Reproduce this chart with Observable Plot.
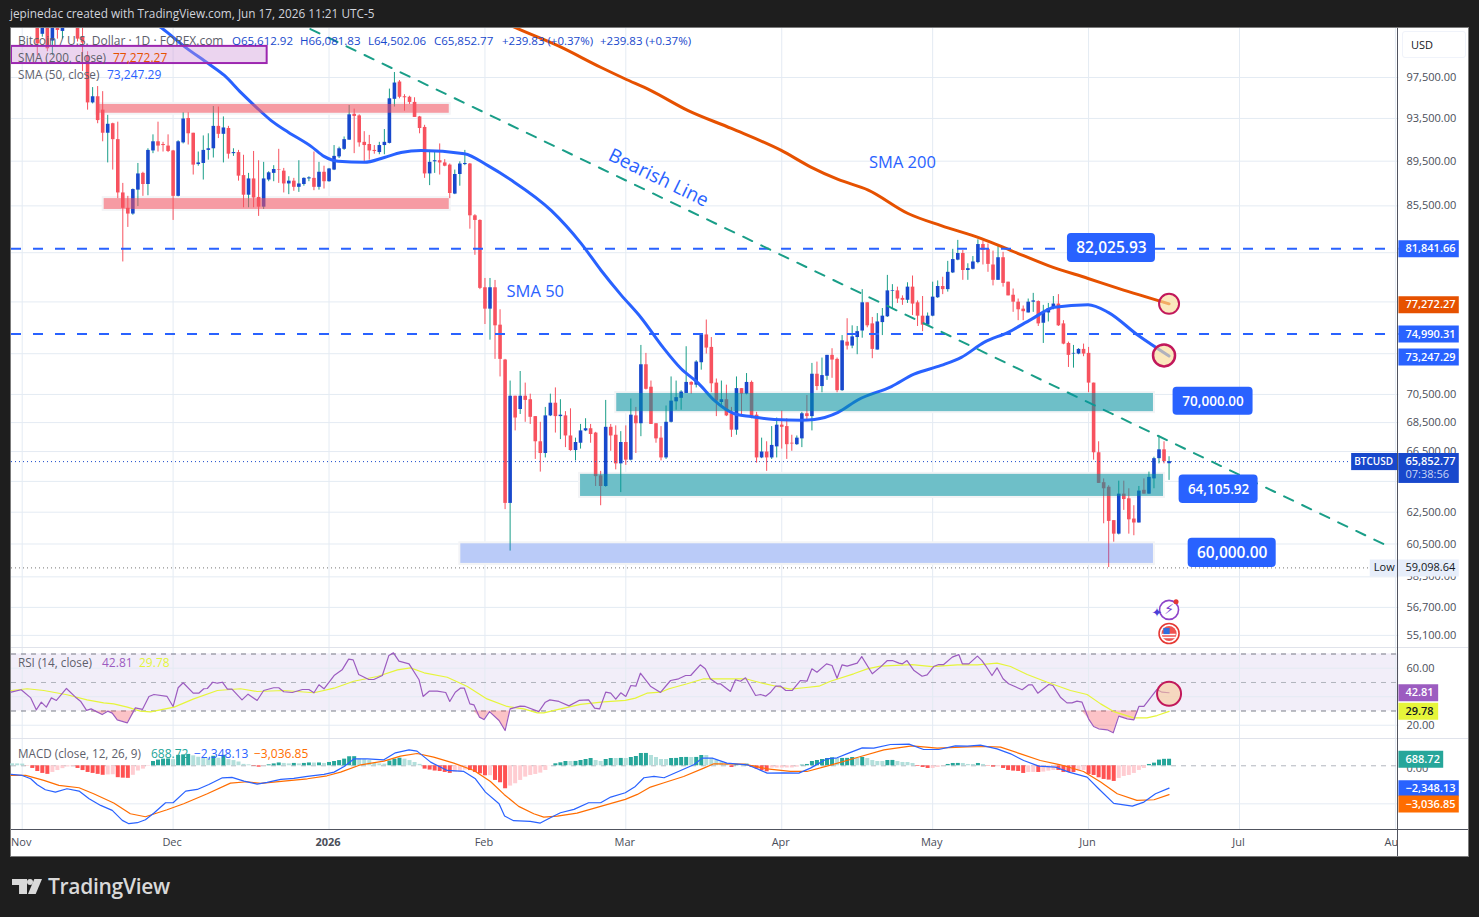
<!DOCTYPE html>
<html>
<head>
<meta charset="utf-8">
<script src="https://cdn.jsdelivr.net/npm/d3@7"></script>
<script src="https://cdn.jsdelivr.net/npm/@observablehq/plot@0.6"></script>
<style>
html,body{margin:0;padding:0;background:#1e1e1e;overflow:hidden;}
#stage{position:relative;width:1479px;height:917px;font-family:"Open Sans",sans-serif;overflow:hidden;}
#pane{position:absolute;left:11px;top:28px;width:1457px;height:828px;background:#fff;box-shadow:0 0 0 1px #7b7b7b;}
.plot{position:absolute;left:0;}
.plot svg{display:block;}
.hd{position:absolute;white-space:pre;z-index:5;line-height:1;}
.sep{position:absolute;z-index:4;}
</style>
</head>
<body>
<div id="stage"><div id="pane"></div></div>
<script>
// ---- dates: every series is indexed by whole or fractional days after 1 Nov 2025
const firstDay = -2, originUTC = Date.UTC(2025,10,1);
const day = d => new Date(originUTC + d*864e5);

// ---- daily candles (thousand USD), from 30 Oct 2025 to 17 Jun 2026
const opens = [
109.5,110,109.8,110,109.6,105,101.8,104,101.1,104,
102.1,104,105,102.7,101.5,99.6,94.9,95.5,94.2,92,
92.9,91.4,86.55,85.2,84.7,86.8,88.3,87.3,90.35,91.2,
90.95,90.8,90.35,86.25,91.1,93.4,92,89.1,89.2,90.4,
90.55,92.65,91.9,92.45,90.1,90.2,88.1,86.35,87.8,86.15,
85.3,87.7,88.3,88.65,88.5,87.35,87.6,87.05,87.3,87.8,
87.85,87.05,88.4,87.55,88.6,89.8,90.5,91.35,93.8,93.65,
91.15,90.95,90.4,90.2,90.85,91.05,95.25,96.95,95.5,95.45,
94.95,93.55,92.55,88.25,89.35,89.45,89.25,89.05,86.45,88.2,
89.1,89.15,84.55,84.15,78.55,76.85,78.55,75.6,72.95,63,
70.3,69.35,70.3,70.05,68.85,67.1,66.3,68.9,69.8,68.85,
68.9,67.5,66.5,67,67.85,68,67.7,64.8,64.1,68.1,
67.55,65.6,67.05,65.85,68.9,68.35,72.6,70.95,68.35,67.35,
66,68.45,69.9,70.15,70.5,71.3,71.1,72.75,74.85,73.9,
71.25,69.85,70.05,69.05,67.9,70.85,70.45,71.3,68.95,66,
66.4,66,66.75,68.25,68.15,67,66.9,67.3,69.05,68.85,
71.9,71,71.75,73.3,73,70.7,74.3,74,74.65,75.15,
77.35,75.7,73.7,75.8,76.25,78.25,78.3,77.7,77.55,78.6,
77.35,76.3,75.6,76.3,77.75,78.65,78.4,79.75,80.8,81.35,
79.95,80.05,80.6,82.1,81.7,80.4,79.15,81,79,77.95,
77.4,76.85,76.55,77.4,77.45,75.75,76.55,76.9,77.25,75.7,
74.2,73.4,73.4,73.75,73.45,71.25,66.35,64.35,64.05,61.9,
61.05,63.6,63.3,62,61.75,63.85,63.6,64.6,65.95,66.55,65.61];
const closes = [
110,109.8,110,109.6,106.5,100.8,104,100.3,104,102.2,
104,105,104,101.3,100.9,94.9,95.5,93.2,92,92.85,
91.4,86.55,85.2,84.7,86.85,88.25,87.3,90.4,91.2,90.8,
90.85,90.3,86.25,91.2,93.35,91.95,89.05,89.25,90.4,90.55,
92.65,91.9,92.5,90.05,90.2,88.05,86.35,87.8,86.1,85.3,
87.8,88.35,88.65,88.6,87.35,87.6,87.05,87.35,87.85,87.9,
87.05,88.4,87.55,88.7,89.85,90.55,91.4,93.75,93.6,91.1,
90.85,90.35,90.3,90.85,91.15,95.3,96.85,95.45,95.4,94.95,
93.5,92.45,88.25,89.3,89.45,89.25,88.95,86.5,88.2,89.15,
89.2,84.55,84.15,78.5,76.85,78.55,75.55,73,63,70.3,
68.75,70.3,70,68.8,67.1,66.3,68.9,69.8,68.85,68.95,
67.5,66.5,67.05,67.85,68,67.6,64.75,64.1,68.1,67.5,
65.6,67.05,65.85,68.95,68.35,72.6,70.8,68.3,67.3,66,
68.45,69.95,70.2,70.6,71.3,71.1,72.8,74.85,73.85,71.2,
69.95,70.05,68.9,67.9,70.85,70.45,71.3,68.85,66,66.4,
66,66.85,68.25,68.1,66.9,66.95,67.35,69.05,68.85,71.9,
71,71.8,73.3,72.95,70.7,74.4,74,74.7,75.1,77.35,
75.55,73.75,75.85,76.3,78.3,78.3,77.65,77.55,78.6,77.25,
76.3,75.6,76.3,77.8,78.65,78.4,79.8,80.85,81.35,79.95,
80.1,80.65,82.1,81.6,80.45,79.15,81,78.9,77.9,77.4,
76.8,76.65,77.4,77.5,75.7,76.55,76.9,77.25,75.55,74.15,
73.3,73.45,73.75,73.4,71.25,66.35,64.3,63.95,61.85,61.05,
63.6,63.25,61.95,61.75,63.8,63.6,64.7,65.95,66.55,65.75,65.75];
const highs = [
111,111.3,111,110.5,110,106,105,105,105,105,
105,106,106,104,103,100,96.4,96.5,96,93.7,
92.95,93.05,87.4,86.25,86.9,89.2,88.4,90.55,91.85,93.05,
91.15,91.85,90.4,91.3,93.95,93.95,92,90.25,91.75,91.95,
94.55,94.5,93.55,92.65,90.55,90.4,89.95,88.3,90.3,89.45,
89.3,88.45,89,90.5,88.75,88,87.85,89.45,87.9,88,
90.25,89.3,88.95,88.75,90.85,90.7,91.65,94.65,94.3,93.75,
92.15,91.8,90.85,91.15,92.35,96.25,97.9,97.1,95.7,95.55,
95.4,93.6,92.75,90.4,90.35,91,89.55,89.15,88.6,89.35,
90.4,89.2,84.65,84.2,79.3,79.3,79.14,76.8,73,71.4,
70.3,72.1,71.25,70.45,68.85,68.45,69.5,70.45,70.9,70.05,
69.2,69.4,67.35,68.3,68.7,68.3,67.75,65.1,70,68.3,
68.2,67.8,68.2,70.1,69.5,74.05,73.45,71.4,68.35,68.15,
69.6,71.7,71.4,70.7,73.95,71.35,72.9,74.85,76,74.65,
71.55,71.4,71.1,69.5,71.7,70.85,71.95,71.4,69.15,67.35,
67.1,68.15,68.75,69.25,68.7,67.55,67.5,69.15,70.35,72.7,
72.8,73.1,73.3,73.8,73.1,74.8,76.1,75.55,75.5,78.4,
77.35,76.2,76.5,76.9,79.55,78.8,78.6,77.9,78.95,79.5,
77.5,77.85,76.55,79,79.1,79.4,80.7,81.7,82.45,81.6,
80.5,81.1,82.5,82.4,82.15,81.55,82,81.45,79,78.45,
77.65,77.1,77.65,78.1,77.5,77.15,77.3,77.85,78,75.95,
74.3,74.05,73.8,74.15,73.9,71.25,67.1,64.6,64.15,61.9,
64.45,64.45,63.95,62.85,64.1,64.6,65.05,66.05,67.5,67.1,66.08];
const lows = [
108.5,109,109,109.2,106,99.6,101.5,100,99.6,101.3,
101.3,103,103,101,98,94.2,94.8,92.9,91.2,89.25,
88.6,86.05,80.65,83.55,84.6,85.35,86.25,86.3,90.1,90.25,
90.25,90.2,84.15,86.2,91,90.9,88.15,88.95,87.7,89.5,
89.7,91.5,89.25,89.6,89.85,87.6,85.25,85.25,85.25,84.5,
85.1,87.55,87.55,87.4,86.55,86.4,86.7,86.6,87.15,87.55,
86.75,86.8,86.9,87.5,88.55,89.65,90.4,91.35,90.1,90.7,
89.2,89.5,90.05,90,90,91,94.5,95.3,94.1,94.75,
93.5,91.95,87.85,87.2,88.3,88.15,88.9,86.05,86.4,87.15,
89,83.4,81.2,78.4,75.65,74.45,73,71.7,62.6,60,
67.85,69,68.45,68.3,65.9,65.05,66,68.85,67.7,67.25,
66.7,66.45,65.8,66.6,67.8,67,64.1,62.85,64.05,66.45,
65.2,63.7,65.5,65.8,66.3,67.45,70.75,68.3,67,65.8,
65.9,68.4,69.3,69.3,70.5,70.45,70.9,72.2,73.4,70.55,
68.85,69.45,68.85,67.4,67.55,69,70.4,68.7,65.65,65.95,
65.1,65.9,66,66.6,65.9,66.45,66.85,66.7,68.5,67.85,
70.7,70.55,71.45,71.6,70.55,70.65,73.7,73.8,73.35,74.6,
75.4,73.05,73.7,74.8,76.2,76.9,77.3,77.15,77.3,76.35,
75.5,75.1,75.55,76.25,77.7,78,78.2,79.7,80.75,79.15,
79.15,80,80.5,80.4,79.8,78.7,79.15,78.6,77.9,76.6,
75.95,75.95,76.55,76.6,75.5,74.2,75.85,76.8,75.5,74.1,
72.4,72.35,73.35,73.2,70.55,65.85,64.3,61.7,59,60.55,
61,62.55,61.05,60.95,61.75,63.6,63.6,63.95,65.6,65.6,64.5];

// ---- moving averages
const sma50Days = [20,27.6,32.6,37,40.2,43.5,46.5,49.5,52.9,57.5,60,62.8,68,72,75.3,79.3,87.9,92.6,97.2,105.2,111.1,115.1,119,123,127.4,131,134.4,137.6,141.6,144.9,149.5,154.9,157.5,162.2,166.2,172.8,177.3,182.7,186.7,191.3,196,200.6,205.2,211.9,215.9,221.9,228];
const sma50Values = [105,102.5,100.4,98.8,97.6,95.9,94.5,93.2,92.1,90.75,89.85,89.4,89.3,89.75,90.2,90.4,90.1,89,87.7,85,82.2,79.95,78,76.2,73.9,72.3,71.25,70,69.05,68.85,68.65,68.6,68.65,69.15,70.05,71,71.9,72.55,73.15,74.3,75.05,76.05,77,77.2,76.6,74.8,73.25];
const sma200Days = [85,97.6,106.6,115.1,119.7,125,132.4,141,150.9,156.9,162.2,168.2,176.1,182.7,190.7,196.6,204,211.9,217.9,228];
const sma200Values = [106,102.6,100.6,98.4,97.3,96.1,94.15,92.45,90.4,88.85,87.75,86.8,84.75,83.7,82.6,81.6,80.35,79.3,78.5,77.27];

// ---- price axis
const priceGrid = [97.5,93.5,89.5,85.5,81.5,77.5,73.5,70.5,68.5,66.5,64.5,62.5,60.5,58.5,56.7,55.1];
const priceTicks = [97.5,93.5,89.5,85.5,73.5,70.5,68.5,66.5,62.5,60.5,58.5,56.7,55.1];
const monthDays = [0,30,92,120,151,181,212,242,273];
const monthNames = ["Nov","Dec","Feb","Mar","Apr","May","Jun","Jul","Aug"];
const yearDays = [61];
const yearNames = ["2026"];

// ---- drawn horizontal levels and zones
const dashedLevels = [81.84166,74.99031];
const redZoneStart = [14.9,16.3], redZoneEnd = [84.9,84.9], redZoneTop = [94.75,86.05], redZoneBottom = [93.9,85.1];
const tealZoneStart = [118.2,111], tealZoneEnd = [224.9,226.9], tealZoneTop = [70.5,64.9], tealZoneBottom = [69.2,63.45];
const blueZoneStart = [87.2], blueZoneEnd = [224.9], blueZoneTop = [60.45], blueZoneBottom = [59.25];
const trendDays = [57.3,271.2], trendValues = [102.35,60.35];

// ---- annotation boxes
const boxLabels = ["82,025.93","70,000.00","64,105.92","60,000.00"];
const boxStart = [207.8,228.8,230,231.8], boxEnd = [225.3,244.7,245.7,249.3];
const boxTop = [83.03,70.95,64.85,60.8], boxBottom = [80.6,68.95,63,59];

// ---- price badges
const badgeValues = [81.84166,77.27227,74.99031,73.24729];
const badgeLabels = ["81,841.66","77,272.27","74,990.31","73,247.29"];
const badgeKinds = ["level","sma200","level","sma50"];

// ---- RSI
const rsiDays = [-2.2,-0.2,1.7,2.8,3.8,4.8,5.8,6.8,8.8,10.6,11.6,12.8,13.7,15.9,17,17.9,18.9,20.9,22.5,23.9,25.2,26.2,28.8,30,31,32,34,35.1,36.1,36.8,37.9,38.8,39.8,40.8,41.7,43.7,44.9,46.7,48,50,51,52,53.7,55.7,57,58,59,60,62,63.6,64.9,65.8,66.9,68.9,69.9,71.6,72.9,73.8,74.9,76.9,78.9,79.7,80.9,82.5,84.2,85,86.1,87.1,87.9,89,89.8,90.9,91.8,92.9,94.8,96,97,99,100,102.7,104,104.9,106.7,108.7,110.7,112.6,113.8,114.8,116,117,118,119,120,121,122,122.9,124.9,126.9,128.9,130.5,131.9,132.9,134.8,135.8,136.8,138.2,138.8,140.8,141.8,142.8,143.8,145.8,146.8,147.8,148.8,149.8,150.8,151.8,153.1,154.7,156,157,158,159.9,161,162,163,164,166,166.9,169,170.6,172,173,174.3,175,175.9,177.3,178.9,179.9,181.2,182.2,183.2,184.9,186.2,186.9,188.2,189.9,190.8,191.5,192.8,193.8,195,196.1,198.8,200.1,200.8,201.9,204.1,204.9,206.4,207.7,208.7,209.7,210.7,212,213,214,215.7,216.9,218,219.7,221,222,223,225.6,226.6,228];
const rsiValues = [43.2,44.9,39.2,30.8,36.2,32.7,39.2,37.4,45.8,39.7,36.9,30.4,31.5,27.5,29.9,28.5,23.8,21.7,32.2,31.1,40.2,41.6,40.2,33.2,46.3,49.8,42.5,42.5,45.6,45.8,50.2,49.5,50.2,45.3,45.3,37.8,41.8,37.4,44.4,46.3,46.3,43.5,43,45.1,45.1,42.8,48.4,45.6,54.9,58.9,66.4,65.9,55.6,52.1,52.1,54.9,69,70.8,65,63.1,51.9,40.2,43.9,43.9,43,36.7,43.2,46,46,35,34.3,25.7,24,29.6,23.3,16.3,31.5,33.4,33.2,29.6,36.2,37.8,36.7,33.6,37.4,37.8,32,31.5,43.2,42.5,38.3,42.8,40.2,47.9,47.4,56.5,47.4,43,51.4,52.6,54.9,54.9,62.4,59.6,52.6,49.1,49.1,43.7,51.9,50.9,53.3,40.9,41.6,40.4,43.2,47.4,47.4,44.4,44.4,51.4,50.9,59.6,57.2,63.1,61.9,53,62.4,61.5,63.6,68.2,56.1,60.8,65.4,65.4,63.6,63.1,65.4,58.4,54.4,55.4,61.2,62.6,62.6,67.8,69.6,63.1,63.1,68.5,65.4,61.9,54.9,60.3,52.6,49.1,44.9,48.4,48.4,42.5,48.6,47.9,39.7,35.7,35.7,36.9,36.2,24.5,19.1,17.5,16.8,14.7,26.4,24.5,23.8,33.2,33.2,45.1,43.2,42.81];
const rsiSmaDays = [-2.2,1,4.3,8.9,12.9,16.2,18.2,20.9,23.5,25.5,30.2,34.1,38.8,43.4,46.7,52,58,62,65.9,70.6,74.6,77.2,79.9,84.5,88.5,92.4,96.4,99.7,102.4,103.7,106.4,111,115.6,119.9,121.9,124.2,126.9,128.6,132.2,135.5,139.5,143.8,146.8,150.1,152.7,155.4,158.4,160.7,165.3,168,170.6,176.9,180.9,185.9,189.9,193.8,196.5,199.8,203.8,208.4,211.7,214.4,217,221,223.6,225.6,228];
const rsiSmaValues = [44.4,45.6,44.4,41.4,37.8,35.7,35,32.7,29.9,29.4,32.7,38.5,44.4,45.6,43.7,44.4,42.8,46,50.9,54.2,58.9,60.3,56.8,53.7,47.2,38.5,33.2,31.5,28.7,28.7,31,34.6,36.4,37.4,39,42.5,43.2,45.6,49.1,52.6,52.6,52.6,49.8,47.2,45.3,46.3,47.4,50.9,56.1,59.6,61.5,62.6,61.2,62.4,62.4,63.6,61.2,55.6,50.2,44.4,41.6,35,29.6,25.2,25.2,26.8,29.78];
const rsiLevelsDashed = [70,30], rsiMiddle = [50], rsiTicks = [60,20], rsiGrid = [60,40,20];

// ---- MACD
const macdDays = [-2.2,0,1.7,3,4.6,6.6,8.9,11.3,13.3,15.6,17.9,19.9,21.2,22.9,24.5,26.2,28.5,30,32.5,34.8,37.1,39.8,41.7,44.1,46.7,48.7,51.4,54,56.7,60,62,64,66,68.6,71.9,74.2,76.9,78.5,81.2,84.5,87.8,90.1,92.1,94.8,95.9,97.7,101,103,105,107,109.7,112.6,115,117,119.9,121.9,123.6,125.6,127.6,130.9,133.5,135.2,137.2,140.1,144.1,146.1,148.1,151.4,154.4,156.7,160,162,164.3,167,169.3,172.6,176.3,179.2,182.2,185.5,187.9,190.5,193.8,196.5,199.1,202.1,205.4,208.1,211.7,214,217,220.7,223,225.3,228];
const macdValues = [-910,-1015,-1365,-1995,-2520,-2765,-2415,-2660,-3465,-4165,-4690,-5740,-6090,-5985,-5670,-4970,-3885,-3885,-2660,-2485,-1960,-1260,-1225,-1610,-1925,-1750,-1435,-1330,-1120,-910,-665,-70,735,735,630,1365,1680,1540,385,-490,-595,-1365,-2765,-3990,-5285,-5775,-5845,-6020,-5460,-4935,-4585,-3885,-3885,-3290,-2835,-2170,-1260,-1120,-1260,-490,105,805,805,280,105,-315,-770,-735,-770,-245,735,840,1330,1890,1855,2240,2275,1715,1715,2100,2065,2170,1785,1260,560,-35,-140,-665,-1190,-2415,-3955,-4235,-3815,-2940,-2348.13];
const signalDays = [-2.2,0.7,4.3,7.3,11.3,14.2,18.2,21.5,24.5,28.8,32.1,36.8,41.4,44.7,47.4,52,56.7,60.6,63.3,67.3,71.9,75.2,78.5,81.8,85.8,89.8,93.1,95.8,98.7,101.7,103.7,106.4,110.3,115,119.9,122.3,124.9,127.6,131.5,135.5,137.5,143.5,148.1,152.7,156,160.7,166.7,171.3,176.9,181.9,187.9,191.8,194.5,198.5,202.4,206.4,211,214.4,217.7,221.6,225,228];
const signalValues = [-1015,-1015,-1540,-2065,-2310,-2940,-3920,-5040,-5355,-4620,-3990,-2940,-1820,-1680,-1855,-1610,-1365,-1050,-665,105,490,1015,1295,910,280,-490,-1645,-3010,-4270,-5040,-5390,-5285,-4970,-4270,-3535,-3010,-2240,-1785,-1120,-245,210,175,-315,-595,-595,70,980,1680,2100,1855,1995,2030,1960,1260,560,105,-595,-1715,-2940,-3640,-3570,-3036.85];
const histValues = [
210,200,180,-20,-280,-600,-800,-900,-700,-500,
-300,-120,-100,-280,-500,-700,-800,-900,-1000,-960,
-940,-1250,-1300,-1320,-1000,-550,-350,-50,450,600,
700,720,650,1100,1150,1200,1050,900,800,750,
1000,800,1100,650,550,400,150,100,-50,-150,
-30,100,200,300,250,200,250,200,250,300,
290,300,250,350,450,550,700,950,960,700,
650,550,250,200,180,500,700,800,700,550,
350,150,-350,-450,-550,-600,-700,-800,-700,-650,
-450,-500,-700,-850,-1050,-1040,-1540,-1785,-2415,-2135,
-1890,-1540,-1190,-1015,-910,-770,-490,-20,210,315,
455,450,460,560,665,770,560,455,665,770,
765,775,770,875,980,1295,1300,1085,875,665,
660,770,775,875,880,875,880,1085,1080,770,
560,385,210,-175,140,135,175,-175,-350,-525,
-630,-245,-240,-235,-230,-225,-140,70,140,455,
560,665,770,840,770,775,780,875,770,875,
770,560,455,450,560,565,455,350,345,245,
-70,-175,-280,-275,-175,-35,140,245,250,245,
140,135,245,140,-35,-140,-100,-280,-490,-560,
-595,-805,-700,-695,-700,-665,-560,-490,-495,-700,
-705,-710,-560,-490,-910,-1015,-1260,-1435,-1505,-1645,
-1330,-1120,-1015,-805,-490,-280,140,280,600,680,688.72];
const macdTicks = [0,-4000];

// ---- shared colours
const C = {up:"#1848cc",down:"#f7525f",upWick:"#1a9e88",level:"#2962ff",sma200:"#e65100",sma50:"#2962ff",
  grid:"#e4ebf3",text:"#4a4e59",teal:"#1a9e88",dark:"#50535e",rsi:"#9c5cc0",rsiSma:"#e6f53a",macd:"#2962ff",signal:"#ff6d00"};

const F = "Open Sans";
const endPane = 273.7, endStage = 287.53, labelDay = 275;
const xOpt = {type:"utc",domain:[day(-2.127),day(endStage)]};
const table = (xs,ys) => xs.map((d,i)=>({x:day(d),y:ys[i]}));
const hrule = (vals,a,b,o) => Plot.ruleY(vals,{y:d=>d,x1:()=>day(a),x2:()=>day(b),...o});
const usd = d3.format(",.2f");

const candles = opens.map((o,i)=>({x:day(firstDay+i),o,c:closes[i],h:highs[i],l:lows[i]}));
const upC = candles.filter(d=>d.c>=d.o), dnC = candles.filter(d=>d.c<d.o);

const zones = (s,e,t,b) => s.map((v,i)=>({x1:day(v),x2:day(e[i]),y1:b[i],y2:t[i]}));
const rectOf = (data,o) => Plot.rect(data,{x1:"x1",x2:"x2",y1:"y1",y2:"y2",...o});
const boxes = boxLabels.map((t,i)=>({t,x1:day(boxStart[i]),x2:day(boxEnd[i]),y1:boxBottom[i],y2:boxTop[i],xm:day((boxStart[i]+boxEnd[i])/2),ym:Math.sqrt(boxTop[i]*boxBottom[i])}));
const badges = badgeValues.map((v,i)=>({v,t:badgeLabels[i],k:badgeKinds[i]}));
const redZ = zones(redZoneStart,redZoneEnd,redZoneTop,redZoneBottom);
const tealZ = zones(tealZoneStart,tealZoneEnd,tealZoneTop,tealZoneBottom);
const blueZ = zones(blueZoneStart,blueZoneEnd,blueZoneTop,blueZoneBottom);

const main = Plot.plot({
  width:1479,height:648,marginTop:28,marginBottom:0,marginLeft:11,marginRight:11,
  style:{background:"transparent",fontFamily:F,fontSize:"11px",color:C.text},
  x:{...xOpt,axis:null},
  y:{type:"log",domain:[54.31,102.406],axis:null},
  marks:[
    hrule(priceGrid,-2.127,endPane,{stroke:C.grid,dy:1}),
    Plot.ruleX(monthDays.concat(yearDays).map(day),{stroke:C.grid}),
    Plot.axisY(priceTicks,{anchor:"right",tickSize:0,tickPadding:0,dx:-62,dy:1,label:null,tickFormat:d=>usd(d*1000)}),
    rectOf(redZ.concat(tealZ,blueZ),{fill:"#f3f4f6",inset:-2}),
    Plot.ruleX(upC,{x:"x",y1:"l",y2:"h",stroke:C.upWick,strokeWidth:1,clip:true}),
    Plot.ruleX(dnC,{x:"x",y1:"l",y2:"h",stroke:C.down,strokeWidth:1,clip:true}),
    Plot.ruleX(upC,{x:"x",y1:"o",y2:"c",stroke:C.up,strokeWidth:3.6,clip:true}),
    Plot.ruleX(dnC,{x:"x",y1:"o",y2:"c",stroke:C.down,strokeWidth:3.6,clip:true}),
    Plot.line(table(sma200Days,sma200Values),{x:"x",y:"y",stroke:C.sma200,strokeWidth:3,curve:"monotone-x",clip:true}),
    Plot.line(table(sma50Days,sma50Values),{x:"x",y:"y",stroke:C.sma50,strokeWidth:3,curve:"monotone-x",clip:true}),
    hrule(dashedLevels,-2.127,endPane,{stroke:C.level,strokeWidth:2,strokeDasharray:"10 12",dy:1}),
    hrule([65.85277],-2.127,264.3,{stroke:C.up,strokeDasharray:"1 3",dy:1.5}),
    hrule([59.09864],-2.127,268,{stroke:"#777",strokeDasharray:"1 3",dy:2}),
    Plot.line(table(trendDays,trendValues),{x:"x",y:"y",stroke:C.teal,strokeWidth:2,strokeDasharray:"10 10",clip:true}),
    rectOf(redZ,{fill:C.down,fillOpacity:.55}),
    rectOf(tealZ,{fill:"#0094a2",fillOpacity:.55}),
    rectOf(blueZ,{fill:C.level,fillOpacity:.28}),
    rectOf(zones([-2.127],[48.7],[100.55],[98.8]),{fill:"#ce93d8",fillOpacity:.4,stroke:"#9c27b0",strokeWidth:2,clip:true}),
    Plot.text(["Bearish Line"],{x:()=>day(126.5),y:()=>87.9,rotate:26,fill:C.level,fontSize:19,fontFamily:F}),
    Plot.text(["SMA 200"],{x:()=>day(175),y:()=>89.3,fill:C.level,fontSize:16.5,fontFamily:F}),
    Plot.text(["SMA 50"],{x:()=>day(102),y:()=>78.25,fill:C.level,fontSize:16.5,fontFamily:F}),
    rectOf(boxes,{fill:C.level,rx:4}),
    Plot.text(boxes.filter((d,i)=>i===0||i===3),{x:"xm",y:"ym",text:"t",fill:"#fff",fontSize:15.5,fontWeight:600,fontFamily:F}),
    Plot.text(boxes.filter((d,i)=>i===1||i===2),{x:"xm",y:"ym",text:"t",fill:"#fff",fontSize:13.5,fontWeight:600,fontFamily:F}),
    Plot.dot([{x:day(228),y:77.27}],{x:"x",y:"y",r:10,stroke:"#c2185b",strokeWidth:2,fill:"#f9dc9a",fillOpacity:.65}),
    Plot.dot([{x:day(227),y:73.3}],{x:"x",y:"y",r:11,stroke:"#c2185b",strokeWidth:2.5,fill:"#f9dc9a",fillOpacity:.65}),
    // event icons
    Plot.dot([{x:day(228),y:56.5}],{x:"x",y:"y",r:9.5,stroke:"#8e44c9",strokeWidth:1.6,fill:"#fff"}),
    Plot.text(["⚡"],{x:()=>day(228),y:()=>56.5,fill:"#7b3fd1",fontSize:14,fontFamily:"DejaVu Sans"}),
    Plot.text(["✦"],{x:()=>day(228),y:()=>56.5,dx:-12,dy:3,fill:"#4b3fd8",fontSize:13,fontFamily:"DejaVu Sans"}),
    Plot.dot([{x:day(228),y:56.5}],{x:"x",y:"y",r:2.5,fill:"#e53935",dx:7,dy:-8}),
    Plot.dot([{x:day(228),y:55.15}],{x:"x",y:"y",r:10,stroke:"#e53935",strokeWidth:1.6,fill:"#fff"}),
    Plot.dot([{x:day(228),y:55.15}],{x:"x",y:"y",r:7.5,fill:"#ef5350"}),
    Plot.ruleY([55.15],{y:d=>d,x1:()=>day(226.6),x2:()=>day(229.4),stroke:"#fff",strokeWidth:1.5,dy:1}),
    Plot.ruleY([55.15],{y:d=>d,x1:()=>day(226.6),x2:()=>day(229.4),stroke:"#fff",strokeWidth:1.5,dy:4}),
    Plot.dot([{x:day(228),y:55.15}],{x:"x",y:"y",r:3.5,symbol:"square",fill:"#2f6fe0",dx:-2.5,dy:-2.5}),
    // price scale badges
    Plot.ruleY(badges,{y:"v",x1:()=>day(endPane),x2:()=>day(285.7),stroke:d=>C[d.k],strokeWidth:17,dy:1}),
    Plot.text(badges,{y:"v",x:()=>day(labelDay),dy:1,text:"t",textAnchor:"start",fill:"#fff",fontSize:11,fontWeight:600,fontFamily:F}),
    rectOf(zones([endPane],[285.7],[66.3],[64.3]),{fill:C.up}),
    rectOf(zones([264.3],[endPane],[66.3],[65.15]),{fill:C.up}),
    Plot.text(["BTCUSD"],{x:()=>day(264.8),y:()=>65.85277,dy:1.5,textAnchor:"start",fill:"#fff",fontSize:10,fontWeight:600,fontFamily:F}),
    Plot.text(["65,852.77"],{x:()=>day(labelDay),y:()=>65.85277,dy:1,textAnchor:"start",fill:"#fff",fontSize:11,fontWeight:600,fontFamily:F}),
    Plot.text(["07:38:56"],{x:()=>day(labelDay),y:()=>64.9,textAnchor:"start",fill:"#c9d4f5",fontSize:11,fontFamily:F}),
    Plot.ruleY([59.09864],{y:d=>d,x1:()=>day(268),x2:()=>day(285.7),stroke:"#e7eefa",strokeWidth:17,dy:2}),
    Plot.text(["Low"],{x:()=>day(268.7),y:()=>59.09864,dy:2,textAnchor:"start",fill:"#131722",fontSize:11,fontFamily:F}),
    Plot.text(["59,098.64"],{x:()=>day(labelDay),y:()=>59.09864,dy:2,textAnchor:"start",fill:"#131722",fontSize:11,fontFamily:F})
  ]
});

const rsiPts = table(rsiDays,rsiValues);
const rsiPane = Plot.plot({
  width:1479,height:90,marginTop:0,marginBottom:0,marginLeft:11,marginRight:11,
  style:{background:"transparent",fontFamily:F,fontSize:"11px",color:C.text},
  x:{...xOpt,axis:null},
  y:{domain:[10.7,73.86],axis:null},
  marks:[
    rectOf(zones([-2.127],[endPane],[70],[30]),{fill:"#7e57c2",fillOpacity:.1}),
    hrule(rsiGrid,-2.127,endPane,{stroke:C.grid}),
    Plot.ruleX(monthDays.concat(yearDays).map(day),{stroke:C.grid}),
    hrule(rsiLevelsDashed,-2.127,endPane,{stroke:"#787b86",strokeDasharray:"5 5"}),
    hrule(rsiMiddle,-2.127,endPane,{stroke:"#b2b5be",strokeDasharray:"5 5"}),
    Plot.axisY(rsiTicks,{anchor:"right",tickSize:0,tickPadding:0,dx:-62,label:null,tickFormat:d=>d.toFixed(2)}),
    Plot.areaY(rsiPts,{x:"x",y1:()=>30,y2:d=>Math.min(d.y,30),fill:C.down,fillOpacity:.35}),
    Plot.line(table(rsiSmaDays,rsiSmaValues),{x:"x",y:"y",stroke:C.rsiSma,strokeWidth:1.2}),
    Plot.line(rsiPts,{x:"x",y:"y",stroke:C.rsi,strokeWidth:1.2}),
    Plot.dot([{x:day(228),y:42.07}],{x:"x",y:"y",r:12,stroke:"#c2185b",strokeWidth:2,fill:"#f9c99a",fillOpacity:.6}),
    Plot.ruleY([42.81],{y:d=>d,x1:()=>day(endPane),x2:()=>day(281.6),stroke:C.rsi,strokeWidth:17}),
    Plot.text(["42.81"],{x:()=>day(labelDay),y:()=>42.81,textAnchor:"start",fill:"#fff",fontSize:11,fontWeight:600,fontFamily:F}),
    Plot.ruleY([29.78],{y:d=>d,x1:()=>day(endPane),x2:()=>day(281.6),stroke:C.rsiSma,strokeWidth:17}),
    Plot.text(["29.78"],{x:()=>day(labelDay),y:()=>29.78,textAnchor:"start",fill:"#131722",fontSize:11,fontWeight:600,fontFamily:F})
  ]
});

const hist = histValues.map((v,i)=>{
  const p = i? histValues[i-1] : v;
  return {x:day(firstDay+i),v,col:v>=0?(v>p?"#26a69a":"#b2dfdb"):(v<p?"#ff5252":"#ffcdd2")};
});
const macdPane = Plot.plot({
  width:1479,height:118,marginTop:0,marginBottom:27,marginLeft:11,marginRight:11,
  style:{background:"transparent",fontFamily:F,fontSize:"11px",color:C.text},
  x:{...xOpt,axis:null},
  y:{domain:[-6698,2870],axis:null},
  marks:[
    hrule(macdTicks.slice(1),-2.127,endPane,{stroke:C.grid}),
    Plot.ruleX(monthDays.concat(yearDays).map(day),{stroke:C.grid}),
    hrule([0],-2.127,endPane,{stroke:"#b2b5be",strokeDasharray:"5 5"}),
    Plot.axisY(macdTicks.slice(0,1),{anchor:"right",tickSize:0,tickPadding:0,dx:-62,dy:3,label:null,tickFormat:d=>d.toFixed(2)}),
    Plot.ruleX(hist,{x:"x",y1:()=>0,y2:"v",stroke:"col",strokeWidth:4}),
    Plot.line(table(signalDays,signalValues),{x:"x",y:"y",stroke:C.signal,strokeWidth:1.2}),
    Plot.line(table(macdDays,macdValues),{x:"x",y:"y",stroke:C.macd,strokeWidth:1.2}),
    Plot.ruleY([688.72],{y:d=>d,x1:()=>day(endPane),x2:()=>day(282.6),stroke:"#26a69a",strokeWidth:17}),
    Plot.text(["688.72"],{x:()=>day(labelDay),y:()=>688.72,textAnchor:"start",fill:"#fff",fontSize:11,fontWeight:600,fontFamily:F}),
    Plot.ruleY([-2348.13],{y:d=>d,x1:()=>day(endPane),x2:()=>day(285.7),stroke:C.macd,strokeWidth:16}),
    Plot.text(["−2,348.13"],{x:()=>day(labelDay),y:()=>-2348.13,textAnchor:"start",fill:"#fff",fontSize:11,fontWeight:600,fontFamily:F}),
    Plot.ruleY([-4017],{y:d=>d,x1:()=>day(endPane),x2:()=>day(285.7),stroke:C.signal,strokeWidth:17}),
    Plot.text(["−3,036.85"],{x:()=>day(labelDay),y:()=>-4017,textAnchor:"start",fill:"#fff",fontSize:11,fontWeight:600,fontFamily:F}),
    Plot.axisX(monthDays.map(day),{anchor:"bottom",tickSize:0,tickPadding:9,dx:-1,label:null,tickFormat:(d,i)=>monthNames[monthDays.findIndex(m=>+day(m)===+d)]}),
    Plot.axisX(yearDays.map(day),{anchor:"bottom",tickSize:0,tickPadding:9,dx:-1,label:null,fontWeight:"bold",tickFormat:()=>yearNames[0]})
  ]
});

const stage = document.getElementById("stage");
[[main,0],[rsiPane,648],[macdPane,738]].forEach(([node,top])=>{
  const d = document.createElement("div"); d.className="plot"; d.style.top=top+"px"; d.appendChild(node); stage.appendChild(d);
});

function hd(left,top,html,style){
  const e=document.createElement("div"); e.className="hd"; e.style.left=left+"px"; e.style.top=top+"px";
  e.style.cssText+=style||""; e.innerHTML=html; stage.appendChild(e); return e;
}
function sep(l,t,w,h,c,z){
  const e=document.createElement("div"); e.className="sep";
  e.style.cssText+=`left:${l}px;top:${t}px;width:${w}px;height:${h}px;background:${c};`+(z?`z-index:${z};`:"");
  stage.appendChild(e);
}
// pane frame lines
sep(11,647,1457,1,"#e0e3eb");
sep(11,738,1457,1,"#e0e3eb");
sep(11,829,1457,1,"#50535e");
sep(1397,28,1,828,"#50535e");
sep(1398,830,70,26,"#fff");

// header and legends
const gray="color:#5d606b;font-size:11.7px;", blue="color:#1848cc;font-size:11.5px;";
hd(10,8,"jepinedac created with TradingView.com, Jun 17, 2026 11:21 UTC-5","color:#d1d4dc;font-size:11.8px;font-weight:500;");
const legend = [[18,"Bitcoin / U.S. Dollar · 1D · FOREX.com",gray+"font-size:12px;"],[232,"O65,612.92",blue],[300,"H66,081.83",blue],[368,"L64,502.06",blue],[434,"C65,852.77",blue],[502,"+239.83 (+0.37%)",blue],[600,"+239.83 (+0.37%)",blue]];
legend.forEach(([x,t,s])=>hd(x,35,t,s));
hd(18,52,"SMA (200, close)",gray);
hd(113,52,"77,272.27","color:#e65100;font-size:12px;");
hd(18,69,"SMA (50, close)",gray);
hd(107,69,"73,247.29","color:#2962ff;font-size:12px;");
hd(18,657,"RSI (14, close)",gray);
hd(102,657,"42.81","color:#9c5cc0;font-size:12px;");
hd(139,657,"29.78","color:#e4f53a;font-size:12px;");
hd(18,748,"MACD (close, 12, 26, 9)",gray);
hd(151,748,"688.72","color:#26a69a;font-size:12px;");
hd(194,748,"−2,348.13","color:#2962ff;font-size:12px;");
hd(254,748,"−3,036.85","color:#ff6d00;font-size:12px;");
hd(1402,31,"<span style='display:block;padding:7px 0 7px 8px;width:54px;'>USD</span>","color:#131722;font-size:11px;background:#fff;border:1px solid #f0f3fa;border-radius:3px;");

// footer wordmark
hd(48,876,"TradingView","color:#d9d9d9;font-size:21px;font-weight:600;letter-spacing:-.3px;");
const shape=(l,t,w,h,clip,br)=>{const e=document.createElement("div");e.style.cssText=`position:absolute;left:${l}px;top:${t}px;width:${w}px;height:${h}px;background:#d9d9d9;`+(clip?`clip-path:${clip};`:"")+(br?`border-radius:${br};`:"");stage.appendChild(e);};
shape(12,879,15,15,"polygon(0 0,100% 0,100% 100%,47% 100%,47% 40%,0 40%)");
shape(27,879,6,6,null,"50%");
shape(28,879,14,15,"polygon(45% 0,100% 0,55% 100%,0 100%)");
</script>
</body>
</html>
